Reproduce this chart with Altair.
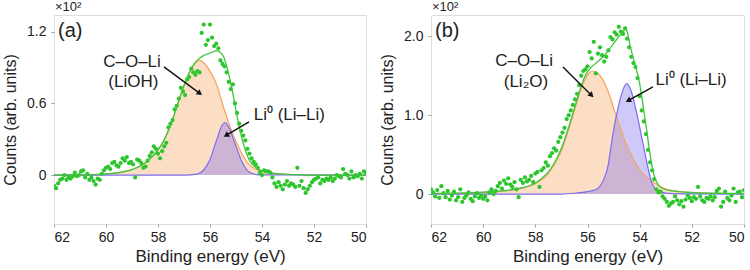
import altair as alt
import pandas as pd

# Binding-energy grid of the recorded spectra (eV): 151 channels from 62 eV down to 50 eV
E_START, E_STEP, N_PTS = 62.0, 0.08, 151
energy = [round(E_START - E_STEP * i, 2) for i in range(N_PTS)]

# ---- panel (a): measured counts (x10^2) ----
counts_a = [
    -0.09, -0.11, -0.07, -0.04, -0.03, 0.00, -0.04, -0.02, -0.03, -0.01,
    0.02, -0.01, 0.00, 0.03, 0.04, -0.02, 0.01, -0.04, -0.02, -0.05,
    -0.08, -0.03, -0.04, 0.01, 0.04, 0.06, 0.07, 0.05, 0.10, 0.11,
    0.08, 0.07, 0.10, 0.14, 0.12, 0.15, 0.10, 0.11, 0.09, -0.02,
    0.13, 0.12, 0.10, 0.06, 0.07, 0.12, 0.16, 0.19, 0.24, 0.22,
    0.18, 0.14, 0.20, 0.24, 0.27, 0.40, 0.43, 0.46, 0.55, 0.58,
    0.64, 0.73, 0.70, 0.67, 0.80, 0.82, 0.89, 0.86, 0.84, 0.87,
    0.86, 1.19, 1.26, 1.09, 1.13, 1.26, 1.15, 1.08, 1.10, 1.06,
    0.96, 0.93, 0.91, 0.86, 0.78, 0.72, 0.76, 0.60, 0.52, 0.43,
    0.37, 0.33, 0.29, 0.22, 0.18, 0.14, 0.11, 0.09, 0.06, 0.02,
    0.00, 0.04, 0.03, 0.03, 0.02, -0.02, -0.07, -0.10, -0.06, -0.09,
    -0.12, -0.08, -0.05, -0.09, -0.07, -0.08, -0.10, 0.06, -0.09, -0.05,
    -0.11, -0.15, -0.12, -0.09, -0.06, -0.04, -0.03, -0.02, -0.07, -0.04,
    -0.05, -0.03, -0.04, -0.02, -0.05, -0.03, 0.00, -0.01, -0.02, 0.05,
    0.01, 0.00, -0.03, 0.03, -0.02, 0.00, -0.01, 0.01, -0.03, 0.03, 0.02,
]

# fitted envelope (a)
env_a_e = [62, 61, 60.5, 60, 59.5, 59, 58.5, 58, 57.75, 57.5, 57.25, 57, 56.75, 56.5,
           56.25, 56, 55.75, 55.5, 55.3, 55.1, 55.0, 54.75, 54.5, 54.25, 54, 53.5, 53,
           52.5, 52, 50]
env_a_v = [0, 0.001, 0.004, 0.01, 0.02, 0.045, 0.10, 0.21, 0.30, 0.43, 0.59, 0.75, 0.88, 0.96,
           1.00, 1.02, 1.04, 1.00, 0.86, 0.66, 0.54, 0.29, 0.13, 0.065, 0.035, 0.014, 0.006,
           0.002, 0, 0]

# C-O-Li (LiOH) component (a)
cool_a_e = [62, 61, 60.5, 60, 59.5, 59, 58.5, 58, 57.75, 57.5, 57.25, 57, 56.75, 56.55,
            56.4, 56.2, 56, 55.75, 55.5, 55.25, 55, 54.75, 54.5, 54.25, 54, 53.5, 53, 52.5,
            52, 50]
cool_a_v = [0, 0, 0.003, 0.01, 0.02, 0.045, 0.10, 0.21, 0.30, 0.43, 0.59, 0.75, 0.88, 0.94,
            0.96, 0.93, 0.87, 0.76, 0.58, 0.42, 0.28, 0.17, 0.09, 0.05, 0.03, 0.012, 0.005,
            0.002, 0, 0]

# Li0 (Li-Li) component (a)
li_a_e = [62, 57, 56.5, 56.25, 56.0, 55.75, 55.55, 55.42, 55.3, 55.0, 54.75, 54.5, 54.25,
          54, 50]
li_a_v = [0, 0, 0.008, 0.04, 0.13, 0.29, 0.41, 0.44, 0.41, 0.24, 0.10, 0.025, 0.006, 0.001, 0]

# ---- panel (b): measured counts (x10^2) ----
counts_b = [
    0.06, 0.02, -0.03, 0.05, -0.05, 0.10, 0.01, -0.04, 0.04, -0.07,
    -0.02, 0.03, -0.08, -0.04, 0.06, -0.10, -0.05, -0.02, 0.02, -0.06,
    -0.09, -0.03, 0.01, -0.05, -0.02, -0.06, -0.03, -0.08, 0.02, 0.06,
    0.00, 0.04, 0.10, 0.14, 0.07, 0.17, 0.13, 0.20, 0.12, 0.09,
    0.15, 0.06, -0.04, 0.18, 0.14, 0.21, 0.16, 0.18, 0.23, 0.15,
    0.26, 0.28, 0.09, 0.30, 0.33, 0.40, 0.36, 0.48, 0.52, 0.58,
    0.55, 0.66, 0.72, 0.78, 0.84, 0.95, 1.00, 1.06, 1.13, 1.20,
    1.27, 1.38, 1.50, 1.56, 1.58, 1.62, 1.80, 1.72, 1.93, 1.53,
    1.78, 1.86, 1.76, 1.68, 1.74, 1.82, 1.99, 1.96, 2.05, 2.02,
    2.12, 2.06, 2.03, 2.10, 1.97, 1.86, 1.74, 1.66, 1.61, 1.47,
    1.24, 1.06, 0.92, 0.76, 0.56, 0.40, 0.30, 0.19, 0.06, 0.02,
    0.03, -0.03, -0.06, -0.10, -0.15, -0.12, -0.10, -0.03, -0.08, -0.13,
    -0.09, -0.16, -0.07, -0.02, -0.05, -0.09, -0.04, -0.06, 0.09, -0.03,
    -0.08, -0.10, -0.05, -0.06, -0.03, -0.08, -0.04, 0.04, 0.07, -0.16,
    -0.10, 0.03, -0.05, -0.08, -0.02, 0.07, -0.10, 0.02, 0.03, -0.04, 0.05,
]

# fitted envelope (b)
env_b_e = [62, 61, 60.2, 59.5, 59.0, 58.5, 58.0, 57.75, 57.5, 57.26, 57.0, 56.75, 56.5, 56.3,
           56.1, 55.85, 55.6, 55.34, 55.09, 54.83, 54.65, 54.55, 54.47, 54.38, 54.25, 54.13,
           54.0, 53.87, 53.74, 53.62, 53.49, 53.36, 53.17, 52.79, 52.3, 51.9, 51, 50]
env_b_v = [0.008, 0.012, 0.02, 0.035, 0.05, 0.08, 0.14, 0.20, 0.28, 0.40, 0.58, 0.82, 1.09, 1.31,
           1.49, 1.61, 1.68, 1.76, 1.87, 1.98, 2.05, 2.09, 2.05, 1.90, 1.73, 1.59,
           1.40, 1.12, 0.83, 0.54, 0.29, 0.16, 0.08, 0.04, 0.025, 0.017, 0.01, 0.008]

# C-O-Li (Li2O) component (b)
cool_b_e = [62, 61, 60.2, 59.5, 58.9, 58.4, 57.9, 57.5, 57.26, 57.0, 56.75, 56.5, 56.3, 56.1,
            55.95, 55.8, 55.65, 55.47, 55.21, 54.96, 54.7, 54.45, 54.19, 53.94, 53.68, 53.42,
            53.04, 52.5, 52.0, 51, 50]
cool_b_v = [0.005, 0.008, 0.015, 0.03, 0.05, 0.085, 0.15, 0.26, 0.38, 0.55, 0.79, 1.06, 1.28,
            1.45, 1.53, 1.56, 1.54, 1.48, 1.30, 1.05, 0.80, 0.58, 0.41, 0.28, 0.20, 0.14,
            0.07, 0.035, 0.02, 0.008, 0.004]

# Li0 (Li-Li) component (b)
li_b_e = [62, 57, 56.5, 56.0, 55.75, 55.6, 55.4, 55.2, 55.1, 54.96, 54.83, 54.7, 54.5, 54.32,
          54.13, 53.94, 53.81, 53.68, 53.55, 53.36, 53.0, 52.5, 50]
li_b_v = [0, 0, 0.01, 0.03, 0.05, 0.07, 0.17, 0.38, 0.60, 0.88, 1.09, 1.26, 1.40, 1.30,
          1.05, 0.75, 0.54, 0.33, 0.16, 0.05, 0.012, 0.003, 0]

x_ticks = [62, 60, 58, 56, 54, 52, 50]

FONT = "Liberation Sans"
GREEN_PT = "#2cc62c"
GREEN_LN = "#3cc63c"
ORANGE_LN = "#f3a35c"
ORANGE_FILL = "#f7a866"
PURPLE_LN = "#7b6cf0"
PURPLE_FILL = "#7b68ee"
FRAME = "#a0a0a0"


def panel(tag, counts, env, cool, li, ydom, yticks, labels, arrows, width):
    x_axis = alt.Axis(values=x_ticks, title="Binding energy (eV)", grid=False, domain=False,
                      tickColor=FRAME, tickSize=3, labelFontSize=14, titleFontSize=17,
                      labelColor="#222", titleColor="#222", titleFontWeight="normal",
                      labelPadding=3, titlePadding=4, labelFont=FONT, titleFont=FONT)
    y_axis = alt.Axis(values=yticks, title="Counts (arb. units)", grid=False, domain=False,
                      tickColor=FRAME, tickSize=3, labelFontSize=14, titleFontSize=16,
                      labelColor="#222", titleColor="#222", titleFontWeight="normal",
                      labelPadding=5, titlePadding=8, labelFont=FONT, titleFont=FONT,
                      labelExpr="datum.value == 0 ? '0' : format(datum.value, '.1f')")
    xs = alt.Scale(domain=[50, 62], reverse=True, nice=False, zero=False)
    ys = alt.Scale(domain=ydom, nice=False, zero=False)

    def X(f="E"):
        return alt.X(f"{f}:Q", scale=xs, axis=x_axis)

    def Y(f="v"):
        return alt.Y(f"{f}:Q", scale=ys, axis=y_axis)

    env_df = pd.DataFrame({"E": env[0], "v": env[1]})
    cool_df = pd.DataFrame({"E": cool[0], "v": cool[1]})
    li_df = pd.DataFrame({"E": li[0], "v": li[1]})
    pts_df = pd.DataFrame({"E": energy, "v": counts})

    cool_area = alt.Chart(cool_df).mark_area(interpolate="monotone", color=ORANGE_FILL,
                                             opacity=0.38, clip=True).encode(x=X(), y=Y())
    li_area = alt.Chart(li_df).mark_area(interpolate="monotone", color=PURPLE_FILL,
                                         opacity=0.36, clip=True).encode(x=X(), y=Y())
    cool_line = alt.Chart(cool_df).mark_line(interpolate="monotone", color=ORANGE_LN,
                                             strokeWidth=1.2, clip=True).encode(x=X(), y=Y())
    li_line = alt.Chart(li_df).mark_line(interpolate="monotone", color=PURPLE_LN,
                                         strokeWidth=1.2, clip=True).encode(x=X(), y=Y())
    pts = alt.Chart(pts_df).mark_circle(color=GREEN_PT, size=18, opacity=1,
                                        clip=True).encode(x=X(), y=Y())
    env_line = alt.Chart(env_df).mark_line(interpolate="monotone", color=GREEN_LN,
                                           strokeWidth=1.3, clip=True).encode(x=X(), y=Y())

    lab_df = pd.DataFrame(labels, columns=["E", "v", "txt"])
    texts = alt.Chart(lab_df).mark_text(font=FONT, fontSize=17, color="#222",
                                        align="center", baseline="middle").encode(
        x=X(), y=Y(), text="txt:N")

    arr_df = pd.DataFrame(arrows, columns=["E", "v", "E2", "v2", "ang"])
    shafts = alt.Chart(arr_df).mark_rule(color="#111", strokeWidth=1.4).encode(
        x=X(), y=Y(), x2="E2:Q", y2="v2:Q")
    heads = alt.Chart(arr_df).mark_point(shape="triangle", filled=True, color="#111",
                                         size=40, opacity=1).encode(
        x=X("E2"), y=Y("v2"), angle=alt.Angle("ang:Q", scale=None))

    tag_txt = alt.Chart(pd.DataFrame({"t": [tag]})).mark_text(
        font=FONT, fontSize=20, color="#222", align="left", baseline="alphabetic").encode(
        x=alt.value(4), y=alt.value(22), text="t:N")
    mult = alt.Chart(pd.DataFrame({"t": ["×10²"]})).mark_text(
        font=FONT, fontSize=13, color="#222", align="left", baseline="alphabetic").encode(
        x=alt.value(1), y=alt.value(-4), text="t:N")

    return alt.layer(cool_area, li_area, cool_line, li_line, pts, env_line,
                     shafts, heads, texts, tag_txt, mult).properties(width=width, height=209)


panel_a = panel(
    "(a)", counts_a, (env_a_e, env_a_v), (cool_a_e, cool_a_v), (li_a_e, li_a_v),
    [-0.41, 1.34], [0, 0.6, 1.2],
    [(59.0, 0.95, "C–O–Li"), (58.95, 0.78, "(LiOH)"), (52.95, 0.50, "Li⁰ (Li–Li)")],
    [(57.77, 0.906, 56.42, 0.688, 127), (54.5, 0.445, 55.35, 0.336, 239)],
    312,
)
panel_b = panel(
    "(b)", counts_b, (env_b_e, env_b_v), (cool_b_e, cool_b_v), (li_b_e, li_b_v),
    [-0.38, 2.27], [0, 1.0, 2.0],
    [(58.43, 1.69, "C–O–Li"), (58.36, 1.42, "(Li₂O)"), (52.03, 1.45, "Li⁰ (Li–Li)")],
    [(56.94, 1.61, 55.87, 1.26, 135), (53.49, 1.36, 54.41, 1.19, 242)],
    313,
)

chart = alt.hconcat(panel_a, panel_b, spacing=12).properties(
    padding={"left": 2, "top": 0, "right": 0, "bottom": 0}
).configure_view(stroke=FRAME, strokeWidth=1.2).configure(font=FONT)

chart.save("out.html", embed_options={"renderer": "svg", "actions": False})
